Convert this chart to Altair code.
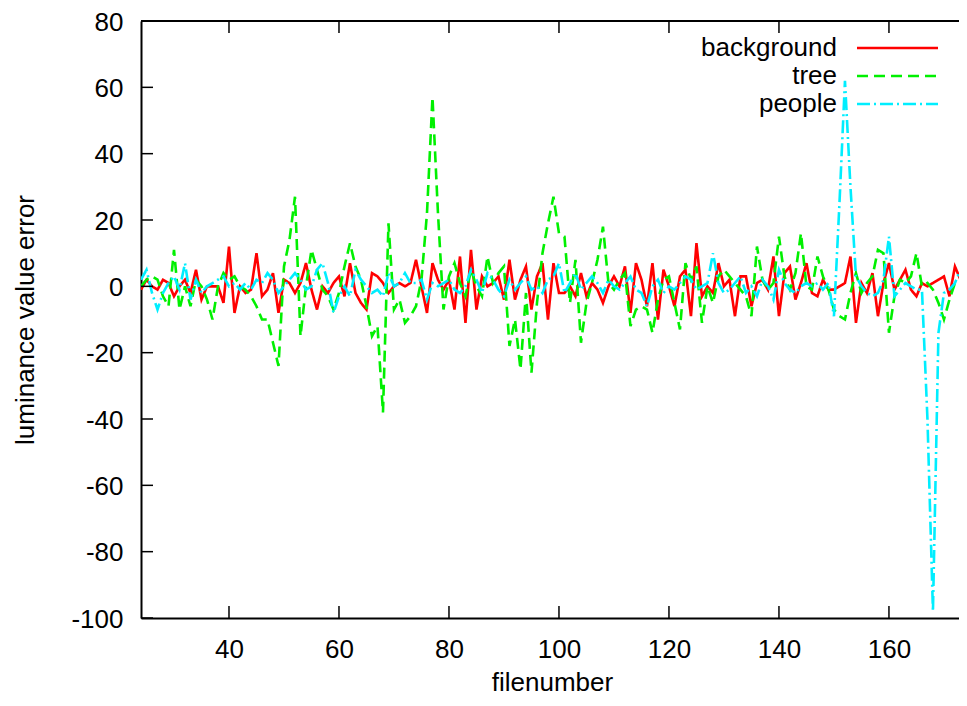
import altair as alt
import pandas as pd

# ---------------- data ----------------
filenumbers = list(range(24, 175))

background = [
    -1, 2, 0, -1, 2, 1, -3, 0, 2, -2,
    5, -4, 0, 0, 0, -5, 12, -8, 0, -2,
    -1, 10, -3, -1, 4, -8, 2, 1, -2, 1,
    7, -1, -7, 0, -2, 1, 3, -3, 7, -2,
    -5, -7, 4, 3, 1, -2, 0, 1, 0, 1,
    8, 0, -8, 7, 2, -1, 2, -7, 9, -11,
    11, -7, 3, 0, 1, 3, -4, 8, -4, 2,
    6, -7, 3, 7, -10, 7, -2, -2, 0, -3,
    4, -3, 1, -1, -5, 0, 3, 0, 6, -8,
    7, 2, -6, 7, -10, 5, 0, -6, 3, 5,
    -9, 13, -3, 0, -2, 7, 0, 2, -9, 3,
    3, -6, 1, 2, -1, 9, -9, 4, 6, -4,
    1, 7, -2, -3, 2, -1, -1, 0, 1, 9,
    -11, 1, -2, 4, -9, 1, 7, -1, 2, 5,
    -1, -3, 1, 0, 1, 2, 3, -3, 6, 2,
    -7,
]

tree = [
    0, 2, 3, 2, -3, -6, 11, -7, 0, -6,
    2, 0, -4, -10, 0, 4, 2, 3, 0, -1,
    -3, -6, -10, -10, -17, -24, 6, 14, 27, -15,
    0, 11, 5, -1, -3, -7, -2, 6, 13, 6,
    2, -6, -15, -12, -38, 19, -7, -4, -11, -9,
    -6, 2, 22, 57, 22, -7, 3, 7, 1, -3,
    5, 0, -3, 9, 1, 4, 6, -18, -10, -25,
    -2, -26, -5, 10, 19, 27, 16, 15, -5, 8,
    -17, -5, 1, 8, 18, 1, -1, 2, 4, -12,
    -7, -6, -7, -14, -4, 2, 3, -5, -13, 7,
    2, 6, -11, 0, -5, 3, 5, 3, 1, -1,
    -3, -9, 12, 2, -1, 1, 15, 3, -1, 4,
    16, 0, -1, 9, 3, -1, -7, -9, -10, -2,
    4, -2, 1, 3, 11, 10, -14, -3, 2, 1,
    3, 10, 0, 1, -1, -5, -10, -4, 1, 1,
    -3,
]

people = [
    2, 5, -2, -7, -2, 1, 3, -1, 7, -4,
    2, -2, 0, 1, 2, 3, 0, 1, -1, 1,
    -1, 2, 1, 4, 2, -2, 0, 2, 4, 2,
    -1, 0, 5, 7, 1, -8, -3, 0, -3, 5,
    2, 0, -2, -1, -3, 4, 0, 1, 4, 1,
    1, 2, -4, 1, 0, 1, 2, -1, -2, 0,
    5, 2, -2, 4, 2, -1, -3, 2, -1, 1,
    3, -1, 0, -2, 2, 3, 7, -2, 1, 4,
    -1, 1, 3, 1, -2, 2, 0, -1, 1, 3,
    -1, -2, -6, 0, 2, -2, 0, -1, 1, 3,
    2, -1, 0, 1, 10, 1, -2, -1, 1, 3,
    -2, 0, -3, 2, 0, -4, 5, 1, -1, -2,
    0, 1, 0, 1, -1, 1, -9, 25, 62, 30,
    3, 0, -2, -3, -2, 2, 15, -3, -1, 1,
    0, -1, -1, -40, -98, -14, -2, -1, 1, 5,
    5,
]

series_names = ["background", "tree", "people"]
series_colors = ["#ff0000", "#00f000", "#00eeff"]
series_dashes = [[1, 0], [11, 6], [13, 4, 2, 4]]

x_ticks = [40, 60, 80, 100, 120, 140, 160]
y_ticks = [-100, -80, -60, -40, -20, 0, 20, 40, 60, 80]

x_title = "filenumber"
y_title = "luminance value error"

# ---------------- layout ----------------
FONT = "Liberation Sans"
FS = 26
W, H = 831, 597          # plot frame runs slightly past the page edge, as in the original
TICK = 12
PAD_LEFT, PAD_TOP, PAD_BOTTOM = 133, 13, 80
PAD_RIGHT = 951 - PAD_LEFT - W   # negative: the right part of the frame is cut off

rows = []
for name, vals in zip(series_names, [background, tree, people]):
    assert len(vals) == len(filenumbers)
    for f, v in zip(filenumbers, vals):
        rows.append({"filenumber": f, "error": v, "series": name})
df = pd.DataFrame(rows)

xscale = alt.Scale(domain=[24, 175.1], nice=False, zero=False)
yscale = alt.Scale(domain=[-100, 80], nice=False, zero=False)

x_axis = alt.Axis(
    values=x_ticks, title=x_title, ticks=False, tickSize=0, grid=False,
    labelExpr="datum.value + ''", labelFont=FONT, labelFontSize=FS,
    labelColor="black", labelPadding=39, labelBaseline="alphabetic",
    labelFlush=False,
    titleFont=FONT, titleFontSize=FS, titleFontWeight="normal",
    titleColor="black", titleBaseline="alphabetic", titleY=PAD_BOTTOM - 8,
    titleX=411,
    domainColor="black", domainWidth=2,
)
y_axis = alt.Axis(
    values=y_ticks, title=y_title, ticks=False, tickSize=0, grid=False,
    labelExpr="datum.value + ''", labelFont=FONT, labelFontSize=FS,
    labelColor="black", labelPadding=18, labelBaseline="middle",
    labelOffset=1,
    titleFont=FONT, titleFontSize=FS, titleFontWeight="normal",
    titleColor="black", titleBaseline="middle", titleAlign="center",
    titleX=-116, titleY=H / 2, titleAngle=270,
    domainColor="black", domainWidth=2,
)

layers = []
base = alt.Chart(df)
for name, col, dash in zip(series_names, series_colors, series_dashes):
    layers.append(
        base.transform_filter(alt.datum.series == name)
        .mark_line(color=col, strokeDash=dash, strokeWidth=2.6, clip=True)
        .encode(
            x=alt.X("filenumber:Q", scale=xscale, axis=x_axis),
            y=alt.Y("error:Q", scale=yscale, axis=y_axis),
        )
    )

ydf = pd.DataFrame({"v": y_ticks})
xdf = pd.DataFrame({"v": x_ticks})
tick_style = dict(color="black", strokeWidth=1.5)

layers.append(alt.Chart(ydf).mark_rule(**tick_style).encode(
    y=alt.Y("v:Q", scale=yscale, axis=y_axis), x=alt.value(0), x2=alt.value(TICK)))
layers.append(alt.Chart(ydf).mark_rule(**tick_style).encode(
    y=alt.Y("v:Q", scale=yscale, axis=y_axis), x=alt.value(W - TICK), x2=alt.value(W)))
layers.append(alt.Chart(xdf).mark_rule(**tick_style).encode(
    x=alt.X("v:Q", scale=xscale, axis=x_axis), y=alt.value(H), y2=alt.value(H - TICK)))
layers.append(alt.Chart(xdf).mark_rule(**tick_style).encode(
    x=alt.X("v:Q", scale=xscale, axis=x_axis), y=alt.value(0), y2=alt.value(TICK)))
# top border of the frame
layers.append(alt.Chart(pd.DataFrame({"a": [0]})).mark_rule(color="black", strokeWidth=2).encode(
    x=alt.value(0), x2=alt.value(W), y=alt.value(0)))

# legend (gnuplot style: label on the left, sample on the right)
for i, (name, col, dash) in enumerate(zip(series_names, series_colors, series_dashes)):
    ldf = pd.DataFrame({"label": [name]})
    layers.append(alt.Chart(ldf).mark_text(
        align="right", baseline="alphabetic", font=FONT, fontSize=FS, color="black"
    ).encode(text="label:N", x=alt.value(696), y=alt.value(35 + 28 * i)))
    layers.append(alt.Chart(ldf).mark_rule(
        color=col, strokeDash=dash, strokeWidth=2.6
    ).encode(x=alt.value(716), x2=alt.value(797), y=alt.value(27 + 28 * i)))

chart = alt.layer(*layers).properties(
    width=W, height=H,
    padding={"left": PAD_LEFT, "top": PAD_TOP, "right": PAD_RIGHT, "bottom": PAD_BOTTOM},
    autosize=alt.AutoSizeParams(type="none"),
).configure_view(stroke=None).configure(background="white")

chart.save("out.html", embed_options={"renderer": "svg", "actions": False})
